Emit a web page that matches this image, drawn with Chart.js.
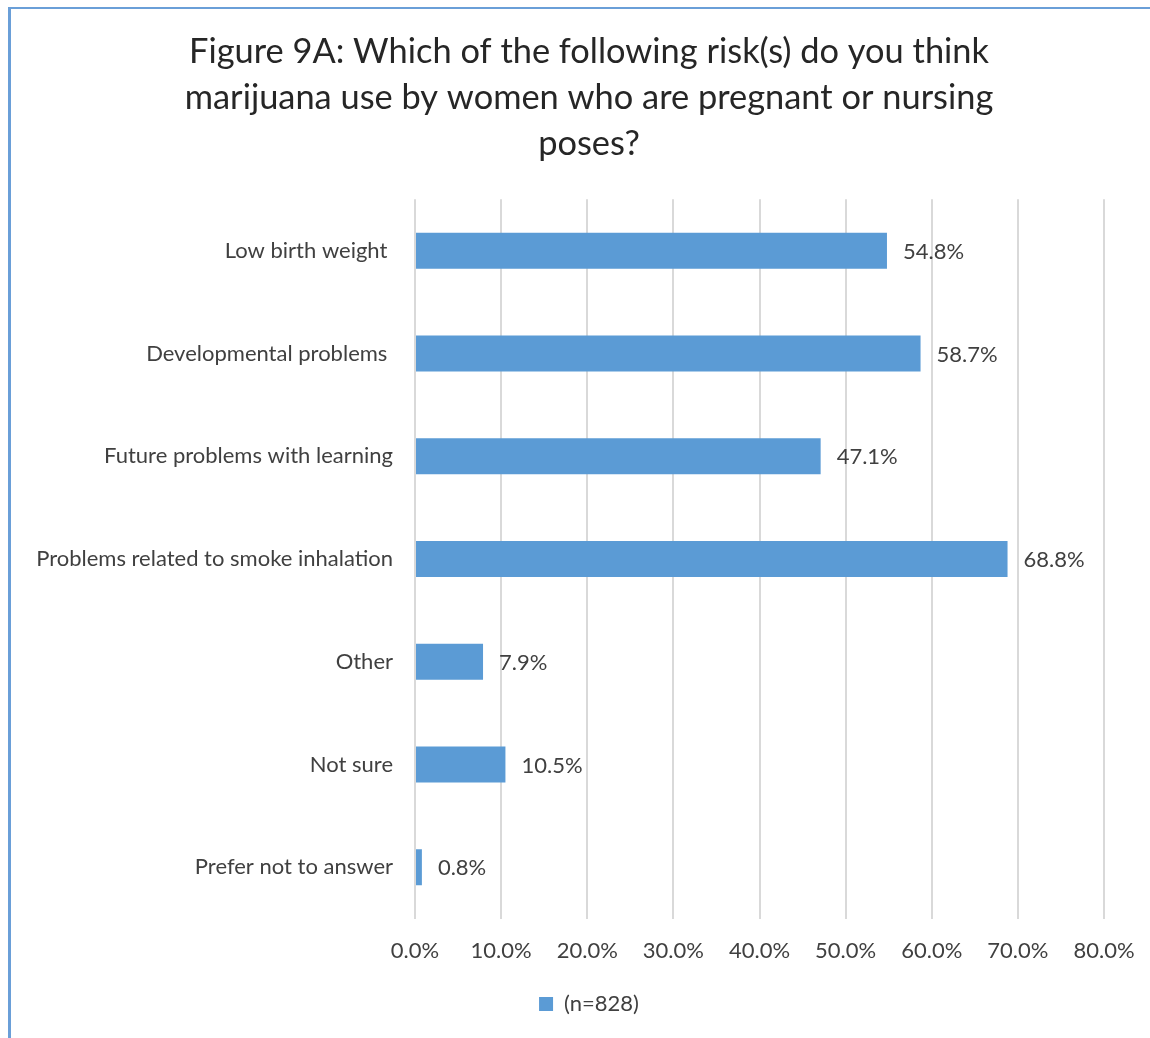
<!DOCTYPE html>
<html lang="en">
<head>
    <meta charset="UTF-8">
    <title>Figure 9A</title>
    <script src="https://cdn.jsdelivr.net/npm/chart.js"></script>
    <style>
        * { margin: 0; padding: 0; box-sizing: border-box; }
        body { background: #fff; width: 1150px; height: 1038px; overflow: hidden; position: relative; }
        .frame { position: absolute; left: 8px; top: 7px; width: 1150px; height: 1040px;
                 border-top: 2px solid #6a9fd8; border-left: 3px solid #6a9fd8; pointer-events: none; }
        #chartBox { position: absolute; left: 0; top: 0; width: 1150px; height: 1038px; }
    </style>
</head>
<body>
    <div id="chartBox"><canvas id="riskChart"></canvas></div>
    <div class="frame"></div>

    <script>
        // Values
        const categories = [
            'Low birth weight ',
            'Developmental problems ',
            'Future problems with learning',
            'Problems related to smoke inhalation',
            'Other',
            'Not sure',
            'Prefer not to answer'
        ];
        const seriesName = '(n=828)';
        const percentValues = [54.8, 58.7, 47.1, 68.8, 7.9, 10.5, 0.8];
        const titleLines = [
            'Figure 9A: Which of the following risk(s) do you think',
            'marijuana use by women who are pregnant or nursing',
            'poses?'
        ];

        const textColor = '#404040';
        const barColor = '#5b9bd5';
        const fontFamily = 'Lato, "Open Sans", sans-serif';
        const labelSize = 22;

        // Draw the value labels at the end of each bar
        const valueLabels = {
            id: 'valueLabels',
            afterDatasetsDraw(chart) {
                const ctx = chart.ctx;
                const meta = chart.getDatasetMeta(0);
                ctx.save();
                ctx.font = labelSize + 'px ' + fontFamily;
                ctx.fillStyle = textColor;
                ctx.textAlign = 'left';
                ctx.textBaseline = 'middle';
                meta.data.forEach((bar, i) => {
                    ctx.fillText(percentValues[i].toFixed(1) + '%', bar.x + 16, bar.y + 1);
                });
                ctx.restore();
            }
        };

        const ctx = document.getElementById('riskChart').getContext('2d');
        new Chart(ctx, {
            type: 'bar',
            data: {
                labels: categories,
                datasets: [{
                    label: seriesName,
                    data: percentValues,
                    backgroundColor: barColor,
                    borderWidth: 0,
                    barPercentage: 0.7,
                    categoryPercentage: 0.5
                }]
            },
            options: {
                indexAxis: 'y',
                responsive: true,
                maintainAspectRatio: false,
                animation: false,
                layout: { padding: { left: 28, right: 0, top: 0, bottom: 13 } },
                plugins: {
                    title: {
                        display: true,
                        text: titleLines,
                        color: '#262626',
                        font: { family: fontFamily, size: 34.4, weight: 'normal', lineHeight: 1.34 },
                        padding: { top: 29, bottom: 32 }
                    },
                    legend: {
                        display: true,
                        position: 'bottom',
                        labels: {
                            color: textColor,
                            font: { family: fontFamily, size: labelSize },
                            boxWidth: 14,
                            boxHeight: 14,
                            padding: 10
                        }
                    },
                    tooltip: { enabled: false }
                },
                scales: {
                    x: {
                        min: 0,
                        max: 80,
                        ticks: {
                            stepSize: 10,
                            color: textColor,
                            font: { family: fontFamily, size: labelSize },
                            padding: 19,
                            callback: v => v.toFixed(1) + '%'
                        },
                        grid: { color: '#d9d9d9', lineWidth: 2, drawTicks: false },
                        border: { display: false },
                        afterFit(scale) { scale.paddingRight = 46; }
                    },
                    y: {
                        ticks: {
                            color: textColor,
                            font: { family: fontFamily, size: labelSize },
                            padding: 22
                        },
                        grid: { display: false, drawTicks: false },
                        border: { display: false },
                        afterFit(scale) { scale.width = 387; }
                    }
                }
            },
            plugins: [valueLabels]
        });
    </script>
</body>
</html>
